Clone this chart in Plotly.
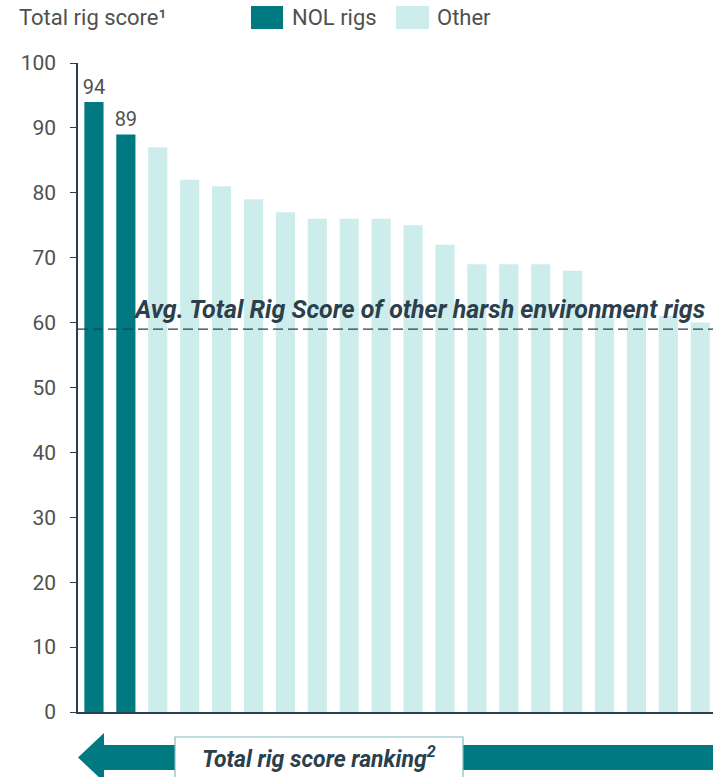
import plotly.graph_objects as go

# ---- data ----
rank = list(range(1, 21))
scores = [94, 89, 87, 82, 81, 79, 77, 76, 76, 76, 75, 72, 69, 69, 69, 68, 61, 61, 61, 60]
groups = ["NOL rigs", "NOL rigs"] + ["Other"] * 18
avg_other = 59
y_ticks = [0, 10, 20, 30, 40, 50, 60, 70, 80, 90, 100]

TEAL = "#007a80"
LIGHT = "#cdecec"
DARK = "#2b3f4c"
GRAY = "#505050"
FONT = "Roboto"

W, H = 713, 777
ML, MR, MT, MB = 78, 0, 63, 65
PW, PH = W - ML - MR, H - MT - MB


def px(x):
    return (x - ML) / PW


def py(y):
    return (H - MB - y) / PH


nol_x = [r for r, g in zip(rank, groups) if g == "NOL rigs"]
nol_y = [s for s, g in zip(scores, groups) if g == "NOL rigs"]
oth_x = [r for r, g in zip(rank, groups) if g == "Other"]
oth_y = [s for s, g in zip(scores, groups) if g == "Other"]

fig = go.Figure()
fig.add_trace(go.Bar(
    x=nol_x, y=nol_y, name="NOL rigs", marker=dict(color=TEAL, line=dict(width=0)),
    text=[str(v) for v in nol_y], textposition="outside", cliponaxis=False, constraintext="none",
    textfont=dict(family=FONT, size=20, color=GRAY), showlegend=False,
))
fig.add_trace(go.Bar(
    x=oth_x, y=oth_y, name="Other", marker=dict(color=LIGHT, line=dict(width=0)),
    showlegend=False,
))

shapes = []
# average dashed line
shapes.append(dict(type="line", xref="paper", x0=0, x1=1, yref="y", y0=avg_other, y1=avg_other,
                   line=dict(color=DARK, width=1.3, dash="10px,5px"), layer="above"))
# legend boxes
shapes.append(dict(type="rect", xref="paper", yref="paper", x0=px(251), x1=px(283), y0=py(29), y1=py(6),
                   fillcolor=TEAL, line=dict(width=0)))
shapes.append(dict(type="rect", xref="paper", yref="paper", x0=px(396), x1=px(429), y0=py(29), y1=py(6),
                   fillcolor=LIGHT, line=dict(width=0)))
# ranking arrow
path = "M {} {} L {} {} L {} {} L {} {} L {} {} L {} {} L {} {} Z".format(
    px(78), py(757.5),
    px(104), py(733),
    px(104), py(745),
    px(720), py(745),
    px(720), py(770),
    px(104), py(770),
    px(104), py(782),
)
shapes.append(dict(type="path", xref="paper", yref="paper", path=path, fillcolor=TEAL, line=dict(width=0)))
shapes.append(dict(type="rect", xref="paper", yref="paper", x0=px(175), x1=px(463), y0=py(790), y1=py(737),
                   fillcolor="white", line=dict(color="#7fbcbf", width=1.2)))

annotations = [
    dict(text="Total rig score¹", xref="paper", yref="paper", x=px(17), y=py(18), xanchor="left",
         yanchor="middle", showarrow=False, font=dict(family=FONT, size=22, color=GRAY)),
    dict(text="NOL rigs", xref="paper", yref="paper", x=px(290), y=py(18), xanchor="left",
         yanchor="middle", showarrow=False, font=dict(family=FONT, size=22, color=GRAY)),
    dict(text="Other", xref="paper", yref="paper", x=px(435), y=py(18), xanchor="left",
         yanchor="middle", showarrow=False, font=dict(family=FONT, size=22, color=GRAY)),
    dict(text="<b><i>Avg. Total Rig Score of other harsh environment rigs</i></b>", xref="paper", yref="paper",
         x=px(707), y=py(309), xanchor="right", yanchor="middle", showarrow=False,
         font=dict(family=FONT, size=25, color=DARK)),
    dict(text="<b><i>Total rig score ranking<sup>2</sup></i></b>", xref="paper", yref="paper",
         x=px(319), y=py(758), xanchor="center", yanchor="middle", showarrow=False,
         font=dict(family=FONT, size=23, color=DARK)),
]

fig.update_layout(
    width=W, height=H, margin=dict(l=ML, r=MR, t=MT, b=MB),
    paper_bgcolor="white", plot_bgcolor="white",
    bargap=0.4, barmode="overlay", shapes=shapes, annotations=annotations,
    font=dict(family=FONT, color=GRAY),
    xaxis=dict(range=[0.5, 20.4], showticklabels=False, ticks="", showgrid=False, zeroline=False,
               showline=True, linecolor=DARK, linewidth=1.5, fixedrange=True),
    yaxis=dict(range=[0, 100], tickvals=y_ticks, ticks="outside", ticklen=6, tickcolor=DARK, tickwidth=1.2,
               showgrid=False, zeroline=False, showline=True, linecolor=DARK, linewidth=1.5,
               tickfont=dict(family=FONT, size=21, color=GRAY), ticklabelstandoff=10, fixedrange=True),
)

fig.write_html("out.html")
